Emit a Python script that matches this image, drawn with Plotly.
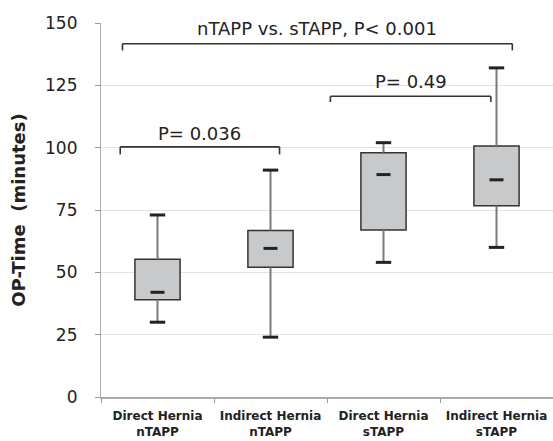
import plotly.graph_objects as go

categories = ["Direct Hernia<br>nTAPP", "Indirect Hernia<br>nTAPP",
              "Direct Hernia<br>sTAPP", "Indirect Hernia<br>sTAPP"]
whisker_low = [30, 24, 54, 60]
q1 = [39, 52, 67, 76.7]
median = [42, 59.6, 89.2, 87.1]
q3 = [55.2, 66.8, 98, 100.7]
whisker_high = [73, 91, 102, 132]

# comparison brackets: left index, right index, bracket height, tick bottom, label, label y
br_left = [-0.33, 1.53, -0.31]
br_right = [1.08, 2.95, 3.14]
br_y = [100.3, 120.6, 141.7]
br_drop = [97.3, 118.3, 139]
br_label = ["P= 0.036", "P= 0.49", "nTAPP vs. sTAPP, P< 0.001"]
br_label_y = [105.8, 126.7, 147.8]

FONT = "DejaVu Sans"
DARK = "#222222"

fig = go.Figure()

# whiskers
wx, wy = [], []
for c, lo, a, b, hi in zip(categories, whisker_low, q1, q3, whisker_high):
    wx += [c, c, None, c, c, None]
    wy += [b, hi, None, lo, a, None]
fig.add_trace(go.Scatter(x=wx, y=wy, mode="lines",
                         line=dict(color="#7a7a7a", width=2),
                         hoverinfo="skip", showlegend=False))

# boxes
fig.add_trace(go.Bar(x=categories, y=[b - a for a, b in zip(q1, q3)], base=q1,
                     width=0.4,
                     marker=dict(color="#c8c9cb", line=dict(color="#333333", width=1.5)),
                     showlegend=False))

# caps
fig.add_trace(go.Scatter(x=categories + categories, y=whisker_low + whisker_high,
                         mode="markers",
                         marker=dict(symbol="line-ew", size=11,
                                     line=dict(color=DARK, width=3)),
                         showlegend=False))
# medians
fig.add_trace(go.Scatter(x=categories, y=median, mode="markers",
                         marker=dict(symbol="line-ew", size=10,
                                     line=dict(color=DARK, width=3)),
                         showlegend=False))

shapes = []
for l, r, y, d in zip(br_left, br_right, br_y, br_drop):
    for (x0, y0, x1, y1) in [(l, y, r, y), (l, d, l, y), (r, d, r, y)]:
        shapes.append(dict(type="line", xref="x", yref="y", x0=x0, x1=x1, y0=y0, y1=y1,
                           line=dict(color="#333333", width=1.6)))

annotations = []
for l, r, t, ty in zip(br_left, br_right, br_label, br_label_y):
    annotations.append(dict(x=(l + r) / 2, y=ty, xref="x", yref="y", text=t,
                            showarrow=False, font=dict(family=FONT, size=18, color=DARK)))

fig.update_layout(
    width=553, height=441,
    margin=dict(l=101, r=0, t=23, b=44, pad=0),
    paper_bgcolor="white", plot_bgcolor="white",
    shapes=shapes, annotations=annotations,
    font=dict(family=FONT, color=DARK),
    xaxis=dict(type="category", range=[-0.5, 3.5], tickson="boundaries",
               automargin=False,
               ticks="outside", ticklen=4, tickcolor="#999999",
               showline=True, linecolor="#aaaaaa", linewidth=1.5,
               ticklabelstandoff=7,
               showgrid=False, tickfont=dict(family=FONT, size=12, color=DARK, weight="bold")),
    yaxis=dict(range=[0, 150], tickvals=[0, 25, 50, 75, 100, 125, 150],
               automargin=False,
               ticks="outside", ticklen=5, tickcolor="#999999",
               showline=True, linecolor="#aaaaaa", linewidth=1.2,
               showgrid=True, gridcolor="#e3e3e3", gridwidth=1, zeroline=False,
               ticklabelstandoff=14,
               tickfont=dict(family=FONT, size=17, color=DARK),
               title=dict(text="OP-Time  (minutes)", standoff=14,
                          font=dict(family=FONT, size=18, color=DARK, weight="bold"))),
)

fig.write_html("out.html", config={"displayModeBar": False},
               post_script="document.body.style.margin='0px';document.body.style.overflow='hidden';")
